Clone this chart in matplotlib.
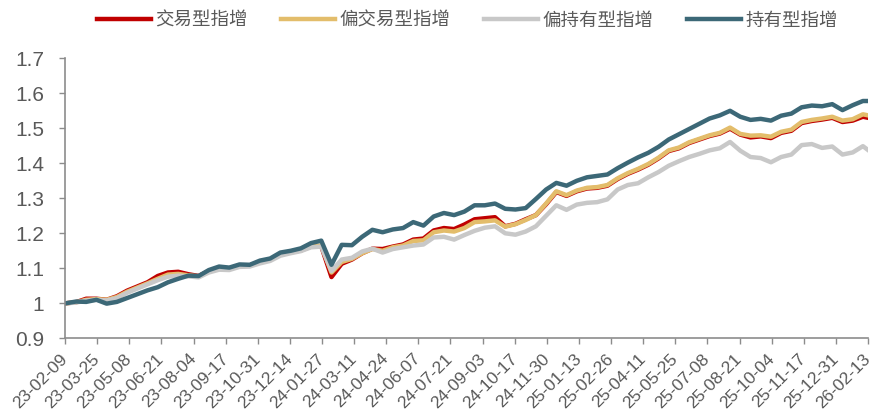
import numpy as np
import pandas as pd
import matplotlib
matplotlib.use("Agg")
import matplotlib.pyplot as plt
import matplotlib.dates as mdates

plt.rcParams['font.family'] = ['Liberation Sans', 'Noto Sans CJK SC', 'DejaVu Sans']

# biweekly observations, last point is 2026-02-13
dates = list(pd.date_range('2023-02-10', periods=79, freq='14D')) + [pd.Timestamp('2026-02-13')]

trade = [1.000, 1.003, 1.013, 1.013, 1.010, 1.020, 1.036, 1.048, 1.060, 1.078,
         1.088, 1.090, 1.083, 1.078, 1.092, 1.100, 1.100, 1.108, 1.108, 1.118,
         1.125, 1.140, 1.146, 1.151, 1.162, 1.163, 1.075, 1.113, 1.125, 1.143,
         1.156, 1.155, 1.162, 1.168, 1.182, 1.185, 1.208, 1.215, 1.212, 1.225,
         1.240, 1.243, 1.246, 1.220, 1.227, 1.240, 1.252, 1.283, 1.318, 1.307,
         1.320, 1.328, 1.330, 1.336, 1.355, 1.370, 1.382, 1.396, 1.414, 1.435,
         1.443, 1.458, 1.468, 1.478, 1.485, 1.499, 1.482, 1.474, 1.477, 1.472,
         1.487, 1.493, 1.515, 1.521, 1.525, 1.530, 1.518, 1.522, 1.533, 1.530]

semi_trade = [1.000, 1.003, 1.010, 1.012, 1.010, 1.018, 1.033, 1.045, 1.057, 1.070,
              1.082, 1.084, 1.080, 1.077, 1.092, 1.101, 1.100, 1.108, 1.108, 1.118,
              1.125, 1.140, 1.146, 1.152, 1.163, 1.165, 1.088, 1.118, 1.127, 1.143,
              1.155, 1.150, 1.160, 1.165, 1.178, 1.180, 1.203, 1.208, 1.205, 1.215,
              1.232, 1.234, 1.237, 1.219, 1.226, 1.238, 1.252, 1.285, 1.320, 1.309,
              1.322, 1.330, 1.332, 1.338, 1.357, 1.372, 1.384, 1.398, 1.416, 1.437,
              1.445, 1.460, 1.470, 1.480, 1.487, 1.502, 1.484, 1.479, 1.480, 1.476,
              1.490, 1.496, 1.518, 1.524, 1.528, 1.533, 1.522, 1.526, 1.540, 1.537]

semi_hold = [1.000, 1.002, 1.008, 1.010, 1.008, 1.015, 1.030, 1.042, 1.054, 1.066,
             1.076, 1.079, 1.077, 1.074, 1.088, 1.096, 1.095, 1.104, 1.105, 1.114,
             1.121, 1.136, 1.143, 1.149, 1.160, 1.162, 1.092, 1.125, 1.130, 1.148,
             1.156, 1.145, 1.155, 1.160, 1.165, 1.168, 1.188, 1.190, 1.182, 1.195,
             1.207, 1.216, 1.220, 1.200, 1.196, 1.205, 1.220, 1.250, 1.280, 1.267,
             1.282, 1.287, 1.289, 1.297, 1.325, 1.338, 1.343, 1.360, 1.375, 1.393,
             1.406, 1.418, 1.427, 1.437, 1.443, 1.461, 1.436, 1.418, 1.415, 1.403,
             1.418, 1.425, 1.452, 1.455, 1.444, 1.448, 1.425, 1.431, 1.449, 1.438]

hold = [1.000, 1.005, 1.004, 1.010, 0.999, 1.004, 1.015, 1.026, 1.037, 1.046,
        1.060, 1.070, 1.079, 1.078, 1.095, 1.105, 1.102, 1.111, 1.110, 1.122,
        1.128, 1.145, 1.150, 1.157, 1.172, 1.179, 1.110, 1.167, 1.166, 1.190,
        1.210, 1.203, 1.211, 1.215, 1.232, 1.222, 1.248, 1.258, 1.252, 1.262,
        1.280, 1.280, 1.285, 1.270, 1.268, 1.272, 1.298, 1.325, 1.344, 1.336,
        1.350, 1.360, 1.364, 1.368, 1.386, 1.402, 1.417, 1.430, 1.447, 1.468,
        1.483, 1.498, 1.513, 1.528, 1.537, 1.550, 1.533, 1.524, 1.527, 1.522,
        1.536, 1.542, 1.560, 1.565, 1.563, 1.569, 1.552, 1.566, 1.578, 1.578]

names = ['交易型指增', '偏交易型指增', '偏持有型指增', '持有型指增']
colors = ['#C00000', '#E3BD6B', '#C8C8C8', '#3C6877']

tick_dates = pd.date_range('2023-02-09', '2026-02-13', freq='44D')

fig = plt.figure(figsize=(8.73, 4.18), dpi=100)
ax = fig.add_axes([0.0745, 0.1907, 0.9198, 0.6698])

for ys, name, c in zip([trade, semi_trade, semi_hold, hold], names, colors):
    ax.plot(dates, ys, color=c, lw=3.2, label=name, solid_joinstyle='round')

ax.set_ylim(0.9, 1.7)
ax.set_yticks(np.arange(0.9, 1.71, 0.1))
ax.set_yticklabels(['0.9', '1', '1.1', '1.2', '1.3', '1.4', '1.5', '1.6', '1.7'])
ax.set_xlim(tick_dates[0], tick_dates[-1])
ax.set_xticks(tick_dates)
ax.xaxis.set_major_formatter(mdates.DateFormatter('%y-%m-%d'))

for s in ['top', 'right']:
    ax.spines[s].set_visible(False)
for s in ['left', 'bottom']:
    ax.spines[s].set_color('#8C8C8C')
    ax.spines[s].set_linewidth(1.2)

ax.tick_params(axis='y', labelsize=15, colors='#8C8C8C', labelcolor='#595959',
               length=4, width=1, pad=11)
ax.tick_params(axis='x', labelsize=12.5, colors='#8C8C8C', labelcolor='#595959',
               length=4, width=1, pad=9)
for lbl in ax.get_xticklabels():
    lbl.set_rotation(45)
    lbl.set_ha('right')
    lbl.set_va('center')
    lbl.set_rotation_mode('anchor')

leg = fig.legend(loc='upper center', bbox_to_anchor=(0.5355, 1.01), ncol=4, frameon=False,
                 fontsize=13.3, handlelength=2.92, handletextpad=0.22, columnspacing=1.84,
                 labelcolor='#595959')

fig.savefig('out.png', dpi=100)
